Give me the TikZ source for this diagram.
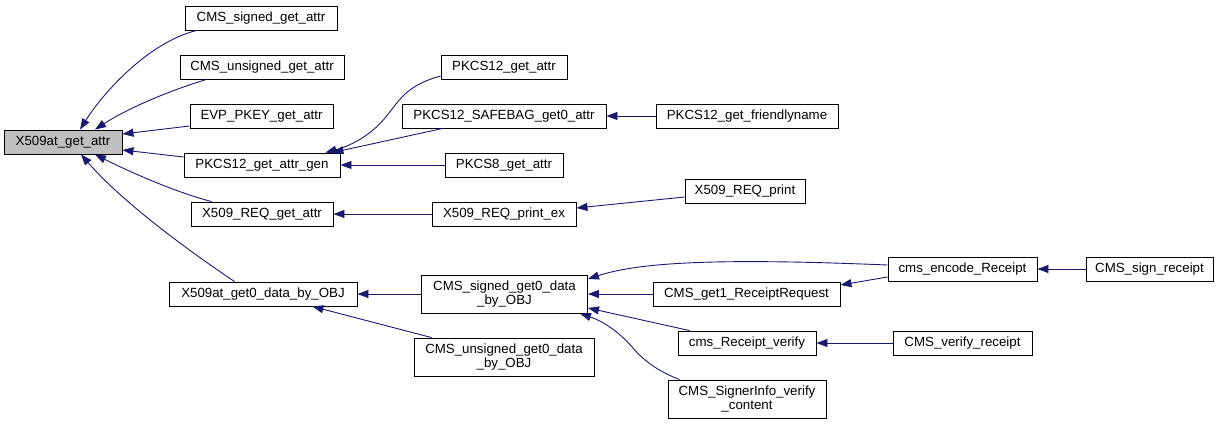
\documentclass[tikz,border=0pt]{standalone}
\usepackage{fontspec}
\setmainfont{Liberation Sans}
\usetikzlibrary{arrows.meta,calc}
\definecolor{edgeblue}{HTML}{191970}
\definecolor{focusgray}{HTML}{BFBFBF}
\tikzset{
  fn/.style={draw=black, fill=white, line width=0.9pt, inner sep=0pt,
    minimum height=24pt, align=center, font=\fontsize{13.3}{13.6}\selectfont},
  fn2/.style={fn, minimum height=38pt},
  call/.style={draw=edgeblue, line width=0.9pt, -{Triangle[length=11pt,width=8pt]}}
}
\begin{document}
\begin{tikzpicture}[x=1pt,y=-1pt]
\useasboundingbox (0,0) rectangle (1221,424);
% column 0
\node[fn, fill=focusgray, minimum width=118pt] (A) at (63,142) {X509at\_get\_attr};
% column 1
\node[fn, minimum width=152pt] (B) at (261,18) {CMS\_signed\_get\_attr};
\node[fn, minimum width=164pt] (C) at (262,67) {CMS\_unsigned\_get\_attr};
\node[fn, minimum width=143pt] (D) at (261.5,116) {EVP\_PKEY\_get\_attr};
\node[fn, minimum width=156pt] (E) at (262,165) {PKCS12\_get\_attr\_gen};
\node[fn, minimum width=142pt] (F) at (262,214) {X509\_REQ\_get\_attr};
\node[fn, minimum width=188pt] (G) at (263,294) {X509at\_get0\_data\_by\_OBJ};
% column 2
\node[fn, minimum width=126pt] (H) at (504,67) {PKCS12\_get\_attr};
\node[fn, minimum width=204pt] (I) at (504,116) {PKCS12\_SAFEBAG\_get0\_attr};
\node[fn, minimum width=118pt] (J) at (504,165) {PKCS8\_get\_attr};
\node[fn, minimum width=144pt] (K) at (504,214) {X509\_REQ\_print\_ex};
\node[fn2, minimum width=166pt] (L) at (504.5,294) {CMS\_signed\_get0\_data\\\_by\_OBJ};
\node[fn2, minimum width=180pt] (M) at (504,357) {CMS\_unsigned\_get0\_data\\\_by\_OBJ};
% column 3
\node[fn, minimum width=182pt] (N) at (747,116) {PKCS12\_get\_friendlyname};
\node[fn, minimum width=120pt] (O) at (745,191) {X509\_REQ\_print};
\node[fn, minimum width=187pt] (P) at (746.5,294) {CMS\_get1\_ReceiptRequest};
\node[fn, minimum width=138pt] (Q) at (747,343) {cms\_Receipt\_verify};
\node[fn2, minimum width=158pt] (R) at (747,399) {CMS\_SignerInfo\_verify\\\_content};
% column 4
\node[fn, minimum width=149pt] (S) at (962.5,269) {cms\_encode\_Receipt};
\node[fn, minimum width=139pt] (U) at (962.5,343) {CMS\_verify\_receipt};
% column 5
\node[fn, minimum width=127pt] (T) at (1149.5,269) {CMS\_sign\_receipt};
% edges
\draw[call] ($(B.south west)+(12,0)$) .. controls (150,42) and (105,90) .. ($(A.north)+(17,0)$);
\draw[call] ($(C.south west)+(27,0)$) .. controls (165,92) and (125,110) .. ($(A.north)+(32,0)$);
\draw[call] ($(D.west)+(0,10)$) -- ($(A.east)+(0,-8)$);
\draw[call] ($(E.west)+(0,-8)$) -- ($(A.east)+(0,8)$);
\draw[call] ($(F.north west)+(21,0)$) .. controls (175,192) and (130,172) .. ($(A.south)+(32,0)$);
\draw[call] ($(G.north west)+(66,0)$) .. controls (195,255) and (125,205) .. ($(A.south)+(18,0)$);
\draw[call] ($(H.west)+(0,9)$) .. controls (405,86) and (400,100) .. (385,118)
   .. controls (370,136) and (350,146) .. ($(E.north east)+(-15,0)$);
\draw[call] ($(I.south west)+(41,0)$) -- ($(E.north east)+(-8,0)$);
\draw[call] (J.west) -- (E.east);
\draw[call] (K.west) -- (F.east);
\draw[call] (L.west) -- (G.east);
\draw[call] ($(M.north west)+(18,0)$) -- ($(G.south east)+(-45,0)$);
\draw[call] (N.west) -- (I.east);
\draw[call] ($(O.west)+(0,6)$) -- ($(K.east)+(0,-6)$);
\draw[call] (P.west) -- (L.east);
\draw[call] ($(Q.north west)+(12,0)$) -- ($(L.east)+(0,14)$);
\draw[call] ($(R.north west)+(12,0)$) .. controls (660,372) and (645,362) .. (633,348)
   .. controls (620,333) and (605,322) .. ($(L.south east)+(-8,0)$);
\draw[call] ($(S.west)+(0,-4)$) .. controls (720,258) and (640,262) .. ($(L.east)+(0,-15)$);
\draw[call] ($(S.west)+(0,8)$) -- ($(P.east)+(0,-9)$);
\draw[call] (T.west) -- (S.east);
\draw[call] (U.west) -- (Q.east);
\end{tikzpicture}
\end{document}
